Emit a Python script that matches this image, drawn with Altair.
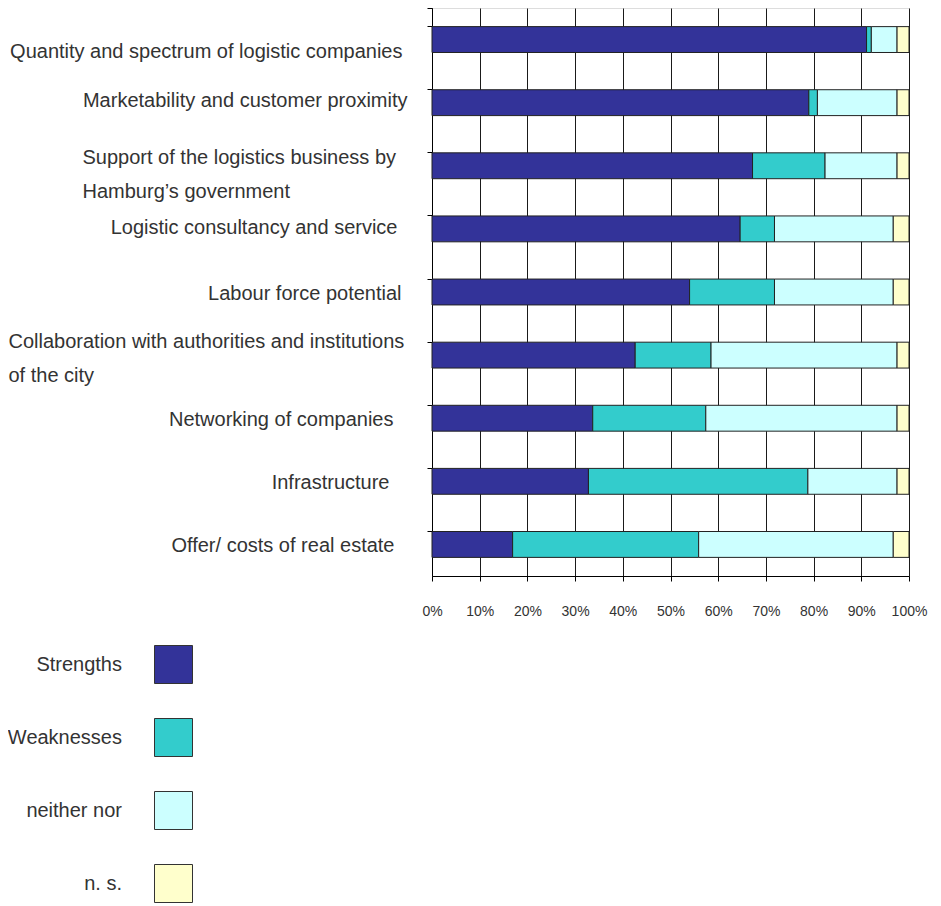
import json
import altair as alt
import pandas as pd

categories = [
    "Quantity and spectrum of logistic companies",
    "Marketability and customer proximity",
    "Support of the logistics business by|Hamburg’s government",
    "Logistic consultancy and service",
    "Labour force potential",
    "Collaboration with authorities and institutions|of the city",
    "Networking of companies",
    "Infrastructure",
    "Offer/ costs of real estate",
]
series = ["Strengths", "Weaknesses", "neither nor", "n. s."]
strengths = [91.1, 79.0, 67.2, 64.6, 54.0, 42.6, 33.7, 32.8, 16.9]
weaknesses = [1.0, 1.8, 15.2, 7.2, 17.8, 15.9, 23.7, 46.0, 39.0]
neither_nor = [5.4, 16.7, 15.1, 24.9, 24.9, 39.0, 40.1, 18.7, 40.8]
not_specified = [2.5, 2.5, 2.5, 3.3, 3.3, 2.5, 2.5, 2.5, 3.3]
colors = ["#333399", "#33CCCC", "#CCFFFF", "#FFFFCC"]
x_ticks = [0, 10, 20, 30, 40, 50, 60, 70, 80, 90, 100]

rows = []
for s_idx, (name, vals) in enumerate(
    zip(series, [strengths, weaknesses, neither_nor, not_specified])
):
    for cat, v in zip(categories, vals):
        rows.append({"category": cat, "series": name, "order": s_idx, "value": v})
df = pd.DataFrame(rows)

FONT = "Liberation Sans"
TXT = "#333333"


def is_cat(i):
    return "datum.value === " + json.dumps(categories[i])


# per-label styling of the category axis (alignment / spacing as in the original)
label_align = {
    "condition": [
        {"test": is_cat(2), "value": "left"},
        {"test": is_cat(5), "value": "left"},
    ],
    "value": "right",
}
label_padding = {
    "condition": [
        {"test": is_cat(0), "value": 25},
        {"test": is_cat(1), "value": 20},
        {"test": is_cat(2), "value": 345},
        {"test": is_cat(3), "value": 30},
        {"test": is_cat(4), "value": 26},
        {"test": is_cat(5), "value": 419},
        {"test": is_cat(6), "value": 34},
        {"test": is_cat(7), "value": 38},
        {"test": is_cat(8), "value": 33},
    ],
    "value": 27,
}
label_offset = {
    "condition": [
        {"test": is_cat(0), "value": 12},
        {"test": is_cat(1), "value": -2},
        {"test": is_cat(2), "value": -8},
        {"test": is_cat(3), "value": -1},
        {"test": is_cat(5), "value": -13},
    ],
    "value": 2,
}

chart = (
    alt.Chart(df)
    .mark_bar(stroke="#222222", strokeWidth=1)
    .encode(
        y=alt.Y(
            "category:N",
            sort=categories,
            scale=alt.Scale(paddingInner=0.59, paddingOuter=0.295),
            axis=alt.Axis(
                title=None,
                bandPosition=0,
                tickExtra=True,
                tickSize=5,
                tickColor="#000000",
                domainColor="#000000",
                labelFont=FONT,
                labelFontSize=20,
                labelColor=TXT,
                labelLimit=600,
                labelBaseline="middle",
                labelLineHeight=34,
                labelAlign=label_align,
                labelPadding=label_padding,
                labelOffset=label_offset,
                labelExpr="split(datum.label, '|')",
                grid=False,
            ),
        ),
        x=alt.X(
            "value:Q",
            stack="zero",
            scale=alt.Scale(domain=[0, 100], nice=False),
            axis=alt.Axis(
                title=None,
                values=x_ticks,
                labelExpr="datum.value + '%'",
                tickSize=5,
                tickColor="#000000",
                domainColor="#000000",
                grid=True,
                gridColor="#1a1a1a",
                gridOpacity=1,
                labelFont=FONT,
                labelFontSize=14,
                labelColor=TXT,
                labelPadding=23,
                labelFlush=False,
                labelOverlap=False,
            ),
        ),
        color=alt.Color(
            "series:N",
            sort=series,
            scale=alt.Scale(domain=series, range=colors),
            legend=alt.Legend(
                title=None,
                orient="none",
                legendX=-278,
                legendY=637,
                direction="vertical",
                symbolType="square",
                symbolSize=1444,
                symbolStrokeColor="#333333",
                symbolStrokeWidth=1,
                symbolOpacity=1,
                labelAlign="right",
                labelOffset={"expr": "-71"},
                labelFont=FONT,
                labelFontSize=20,
                labelColor=TXT,
                labelLimit=300,
                rowPadding=30,
            ),
        ),
        order=alt.Order("order:Q", sort="ascending"),
    )
    .properties(
        width=477,
        height=568,
        autosize=alt.AutoSizeParams(type="none"),
        padding={"left": 424, "top": 0, "right": 24, "bottom": 330},
    )
    .configure_view(stroke=None)
    .configure(background="white")
)

chart.save("out.html", embed_options={"renderer": "svg", "actions": False})
